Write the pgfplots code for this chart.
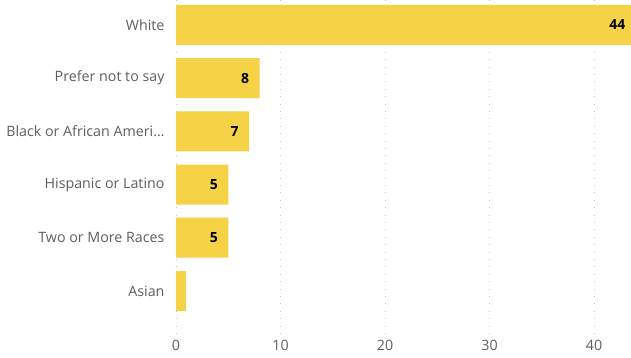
\documentclass[border=0pt]{standalone}
\usepackage{fontspec}
\setmainfont{Open Sans}
\usepackage{pgfplots}
\pgfplotsset{compat=1.18}
\definecolor{baryellow}{RGB}{245,210,70}
\definecolor{labelgray}{RGB}{96,94,92}
\definecolor{gridgray}{RGB}{200,200,200}
\begin{document}
\begin{tikzpicture}
\useasboundingbox (0,0) rectangle (631bp,-358bp);
\begin{axis}[
  at={(176bp,0bp)}, anchor=north west,
  scale only axis, width=455bp, height=335bp,
  clip=false,
  xbar, bar width=40bp, bar shift=0pt,
  xmin=0, xmax=43.54,
  ymin=-0.47, ymax=5.83, y dir=reverse,
  ytick={0,1,2,3,4,5},
  yticklabels={White,Prefer not to say,Black or African Ameri\ldots,Hispanic or Latino,Two or More Races,Asian},
  xtick={0,10,20,30,40},
  axis line style={draw=none},
  major tick length=0pt,
  ymajorgrids=false, xmajorgrids=true,
  major grid style={gridgray, line width=0.8bp, dash pattern=on 0.8bp off 6.6bp},
  tick label style={font=\fontsize{14.3}{16}\selectfont, text=labelgray},
  yticklabel style={xshift=-8bp},
  xticklabel style={yshift=-2bp},
  /pgf/number format/assume math mode=true,
  nodes near coords style={font=\bfseries\fontsize{14}{16}\selectfont, text=black, anchor=east, xshift=-7bp},
]
\addplot[fill=baryellow, draw=none, nodes near coords] coordinates {(44,0) (8,1) (7,2) (5,3) (5,4)};
\addplot[fill=baryellow, draw=none] coordinates {(1,5)};
\end{axis}
\end{tikzpicture}
\end{document}
